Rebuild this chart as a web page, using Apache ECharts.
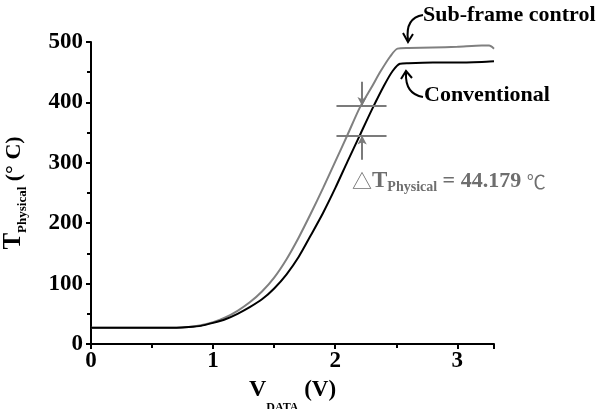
<!DOCTYPE html>
<html>
<head>
<meta charset="utf-8">
<script src="https://cdn.jsdelivr.net/npm/echarts@6/dist/echarts.min.js"></script>
<style>
  html, body { margin: 0; padding: 0; background: #fff; }
  #chart { width: 604px; height: 409px; }
</style>
</head>
<body>
<div id="chart"></div>
<script>
// 电压 (V)
const vSub = [0, 0.2, 0.4, 0.6, 0.7, 0.8, 0.9, 1.0, 1.1, 1.2, 1.3, 1.4, 1.5, 1.6, 1.7, 1.8, 1.9, 2.0, 2.1, 2.2, 2.3, 2.37, 2.45, 2.51, 2.6, 2.8, 3.0, 3.2, 3.26, 3.3]
const tSub = [27, 27, 27, 27, 27, 28, 31, 36, 44, 55, 69, 87, 110, 140, 176, 216, 258, 302, 346, 391, 426, 451, 476, 489, 490, 491, 492, 494, 494, 489]

const vConv = [0, 0.2, 0.4, 0.6, 0.7, 0.8, 0.9, 1.0, 1.1, 1.2, 1.3, 1.4, 1.5, 1.6, 1.7, 1.8, 1.9, 2.0, 2.1, 2.2, 2.3, 2.4, 2.47, 2.53, 2.6, 2.8, 3.0, 3.2, 3.3]
const tConv = [27, 27, 27, 27, 27, 28, 30, 35, 41, 50, 61, 74, 92, 115, 144, 180, 217, 258, 302, 345, 388, 428, 452, 464, 465, 466, 466, 467, 468]

// 标注: 两条水平线和箭头
const markLevels = [394, 345]
const markSpan = [2.01, 2.42]
const arrowV = 2.22
const arrowFrom = [434, 305]

let toPairs = (xs, ys) => xs.map((x, i) => [x, ys[i]])

let serif = 'Liberation Serif'
let gray = '#7b7b7b'

let myChart = echarts.init(document.getElementById('chart'))

let options = {
  animation: false,
  grid: { left: 91, right: 110, top: 42, bottom: 65, outerBoundsMode: 'none', containLabel: false },
  xAxis: {
    type: 'value',
    min: 0,
    max: 3.3,
    interval: 1,
    name: '{t|V}{s|DATA}{n| (V)}',
    nameLocation: 'middle',
    nameGap: 14,
    nameTextStyle: {
      rich: {
        t: { fontFamily: serif, fontWeight: 'bold', fontSize: 24, color: '#000', lineHeight: 48 },
        s: { fontFamily: serif, fontWeight: 'bold', fontSize: 12, color: '#000', lineHeight: 12, verticalAlign: 'bottom' },
        n: { fontFamily: serif, fontWeight: 'bold', fontSize: 23, color: '#000', lineHeight: 48 }
      }
    },
    splitLine: { show: false },
    axisLine: { onZero: false, lineStyle: { color: '#000', width: 2 } },
    axisTick: { show: true, length: 5, lineStyle: { color: '#000', width: 2 } },
    minorTick: { show: true, splitNumber: 2, length: 4, lineStyle: { color: '#000', width: 2 } },
    axisLabel: { fontFamily: serif, fontWeight: 'bold', fontSize: 23, color: '#000', margin: 6,
      formatter: v => Number.isInteger(v) ? String(v) : '' }
  },
  yAxis: {
    type: 'value',
    min: 0,
    max: 500,
    interval: 100,
    name: '{t|T}{s|Physical}{n| (° C)}',
    nameLocation: 'middle',
    nameRotate: 90,
    nameGap: 62,
    nameTextStyle: {
      rich: {
        t: { fontFamily: serif, fontWeight: 'bold', fontSize: 25, color: '#000', lineHeight: 30 },
        s: { fontFamily: serif, fontWeight: 'bold', fontSize: 13, color: '#000', lineHeight: 13, verticalAlign: 'bottom' },
        n: { fontFamily: serif, fontWeight: 'bold', fontSize: 22, color: '#000', lineHeight: 30 }
      }
    },
    splitLine: { show: false },
    axisLine: { show: true, lineStyle: { color: '#000', width: 2 } },
    axisTick: { show: true, length: 5, lineStyle: { color: '#000', width: 2 } },
    minorTick: { show: true, splitNumber: 2, length: 4, lineStyle: { color: '#000', width: 2 } },
    axisLabel: { fontFamily: serif, fontWeight: 'bold', fontSize: 23, color: '#000', margin: 8 }
  },
  series: [
    {
      name: 'Conventional',
      type: 'line',
      data: toPairs(vConv, tConv),
      symbol: 'none',
      smooth: 0.25,
      lineStyle: { color: '#000', width: 2 },
      z: 3
    },
    {
      name: 'Sub-frame control',
      type: 'line',
      data: toPairs(vSub, tSub),
      symbol: 'none',
      smooth: 0.25,
      lineStyle: { color: '#808080', width: 2 },
      z: 2,
      markLine: {
        silent: true,
        symbol: 'none',
        label: { show: false },
        lineStyle: { color: gray, width: 2, type: 'solid' },
        data: [
          [{ coord: [markSpan[0], markLevels[0]] }, { coord: [markSpan[1], markLevels[0]] }],
          [{ coord: [markSpan[0], markLevels[1]] }, { coord: [markSpan[1], markLevels[1]] }],
          [{ coord: [arrowV, arrowFrom[0]], symbol: 'none' }, { coord: [arrowV, markLevels[0]], symbol: 'arrow', symbolSize: [7, 9] }],
          [{ coord: [arrowV, arrowFrom[1]], symbol: 'none' }, { coord: [arrowV, markLevels[1]], symbol: 'arrow', symbolSize: [7, 9] }]
        ]
      }
    }
  ],
  graphic: [
    {
      type: 'text', left: 423, top: 4,
      style: { text: 'Sub-frame control', font: 'bold 22px "Liberation Serif"', fill: '#000' }
    },
    {
      type: 'text', left: 424, top: 84,
      style: { text: 'Conventional', font: 'bold 22px "Liberation Serif"', fill: '#000' }
    },
    // 弯曲箭头
    {
      type: 'bezierCurve',
      shape: { x1: 423, y1: 15, cpx1: 405, cpy1: 18, x2: 408, y2: 40 },
      style: { stroke: '#000', lineWidth: 2, fill: null }
    },
    {
      type: 'polyline',
      shape: { points: [[403, 33], [408, 42], [413, 34]] },
      style: { stroke: '#000', lineWidth: 2, fill: null }
    },
    {
      type: 'bezierCurve',
      shape: { x1: 423, y1: 97, cpx1: 405, cpy1: 94, x2: 406, y2: 73 },
      style: { stroke: '#000', lineWidth: 2, fill: null }
    },
    {
      type: 'polyline',
      shape: { points: [[401, 79], [406, 71], [412, 78]] },
      style: { stroke: '#000', lineWidth: 2, fill: null }
    },
    {
      type: 'text', left: 352, top: 170,
      style: {
        text: '{a|△}{t|T}{s|Physical}{n| = 44.179 }{c|℃}',
        rich: {
          a: { fontFamily: 'Noto Sans CJK SC', fontSize: 20, fill: '#6e6e6e', lineHeight: 26 },
          t: { fontFamily: serif, fontWeight: 'bold', fontSize: 23, fill: '#6e6e6e', lineHeight: 26 },
          s: { fontFamily: serif, fontWeight: 'bold', fontSize: 14, fill: '#6e6e6e', lineHeight: 18, verticalAlign: 'bottom' },
          n: { fontFamily: serif, fontWeight: 'bold', fontSize: 22, fill: '#6e6e6e', lineHeight: 26 },
          c: { fontFamily: 'Noto Sans CJK SC', fontSize: 19, fill: '#6e6e6e', lineHeight: 26 }
        }
      }
    }
  ]
}

myChart.setOption(options)
</script>
</body>
</html>
